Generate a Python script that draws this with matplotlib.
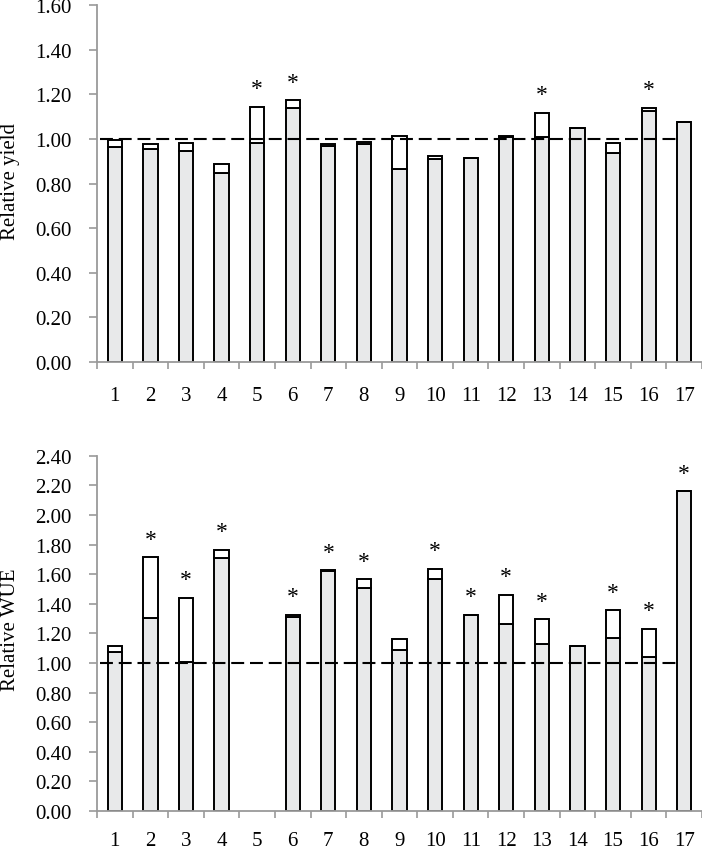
import matplotlib
matplotlib.use("Agg")
import matplotlib.pyplot as plt
import numpy as np

plt.rcParams['font.family'] = ['Liberation Serif', 'DejaVu Serif']

categories = [str(i) for i in range(1, 18)]

# Relative yield: grey (lower) part and total bar height
yield_base = [0.965, 0.957, 0.945, 0.848, 0.981, 1.139, 0.967, 0.978, 0.867,
              0.909, 0.915, 1.009, 1.008, 1.049, 0.936, 1.124, 1.076]
yield_total = [0.996, 0.978, 0.983, 0.888, 1.145, 1.173, 0.978, 0.986, 1.013,
               0.924, 0.915, 1.013, 1.118, 1.049, 0.983, 1.139, 1.076]
yield_sig = [5, 6, 13, 16]

# Relative WUE
wue_base = [1.075, 1.305, 1.008, 1.710, 0.0, 1.310, 1.618, 1.504, 1.086,
            1.567, 1.325, 1.263, 1.128, 1.117, 1.169, 1.043, 2.160]
wue_total = [1.117, 1.713, 1.440, 1.764, 0.0, 1.325, 1.627, 1.565, 1.160,
             1.637, 1.325, 1.462, 1.294, 1.117, 1.357, 1.231, 2.160]
wue_sig = [2, 3, 4, 6, 7, 8, 10, 11, 12, 13, 15, 16, 17]

yield_ticks = [0.0, 0.2, 0.4, 0.6, 0.8, 1.0, 1.2, 1.4, 1.6]
wue_ticks = [0.0, 0.2, 0.4, 0.6, 0.8, 1.0, 1.2, 1.4, 1.6, 1.8, 2.0, 2.2, 2.4]

W, H = 702, 853
fig = plt.figure(figsize=(W / 100, H / 100), dpi=100)

left = 97 / W
width = 605 / W
ax1 = fig.add_axes([left, 1 - 363 / H, width, (363 - 6.2) / H])
ax2 = fig.add_axes([left, 1 - 812 / H, width, (812 - 456.7) / H])

grey = '#e8e9ea'
spine_col = '#9a9a9a'
fs = 15


def draw(ax, base, total, sig, ticks, ylabel, ylab_y, xpad):
    x = np.arange(1, len(categories) + 1)
    base = np.array(base)
    total = np.array(total)
    top = total - base
    mask = total > 0
    ax.bar(x[mask], base[mask], width=0.4, color=grey, edgecolor='black',
           linewidth=1.4, zorder=2)
    ax.bar(x[mask], top[mask], bottom=base[mask], width=0.4, color='white',
           edgecolor='black', linewidth=1.4, zorder=2)
    ax.plot([0.58, 16.9], [1.0, 1.0], color='black', lw=1.5,
            dashes=(6.2, 2.8), zorder=3)
    for s in sig:
        ax.annotate('*', xy=(s, total[s - 1]), xytext=(0, 13),
                    textcoords='offset points', ha='center', va='center',
                    fontsize=17, zorder=4)
    ax.set_xlim(0.5, 17.5)
    ax.set_ylim(ticks[0], ticks[-1])
    ax.set_yticks(ticks)
    ax.set_yticklabels(['%.2f' % t for t in ticks], fontsize=fs)
    ax.set_xticks(x)
    ax.set_xticklabels(categories, fontsize=fs)
    ax.set_xticks(np.arange(0.5, 18.0, 1.0), minor=True)
    ax.tick_params(axis='x', which='major', length=0, pad=xpad)
    ax.tick_params(axis='x', which='minor', length=5, width=1.2,
                   color=spine_col, direction='out')
    ax.tick_params(axis='y', which='major', length=6, width=1.2,
                   color=spine_col, pad=12.5)
    for sp in ['top', 'right']:
        ax.spines[sp].set_visible(False)
    for sp in ['left', 'bottom']:
        ax.spines[sp].set_color(spine_col)
        ax.spines[sp].set_linewidth(1.3)
    fig.text(11 / W, 1 - ylab_y / H, ylabel, rotation=90, ha='center',
             va='center', fontsize=fs)


draw(ax1, yield_base, yield_total, yield_sig, yield_ticks, 'Relative yield', 182, 17.5)
draw(ax2, wue_base, wue_total, wue_sig, wue_ticks, 'Relative WUE', 630, 14.5)

fig.savefig('out.png', dpi=100)
